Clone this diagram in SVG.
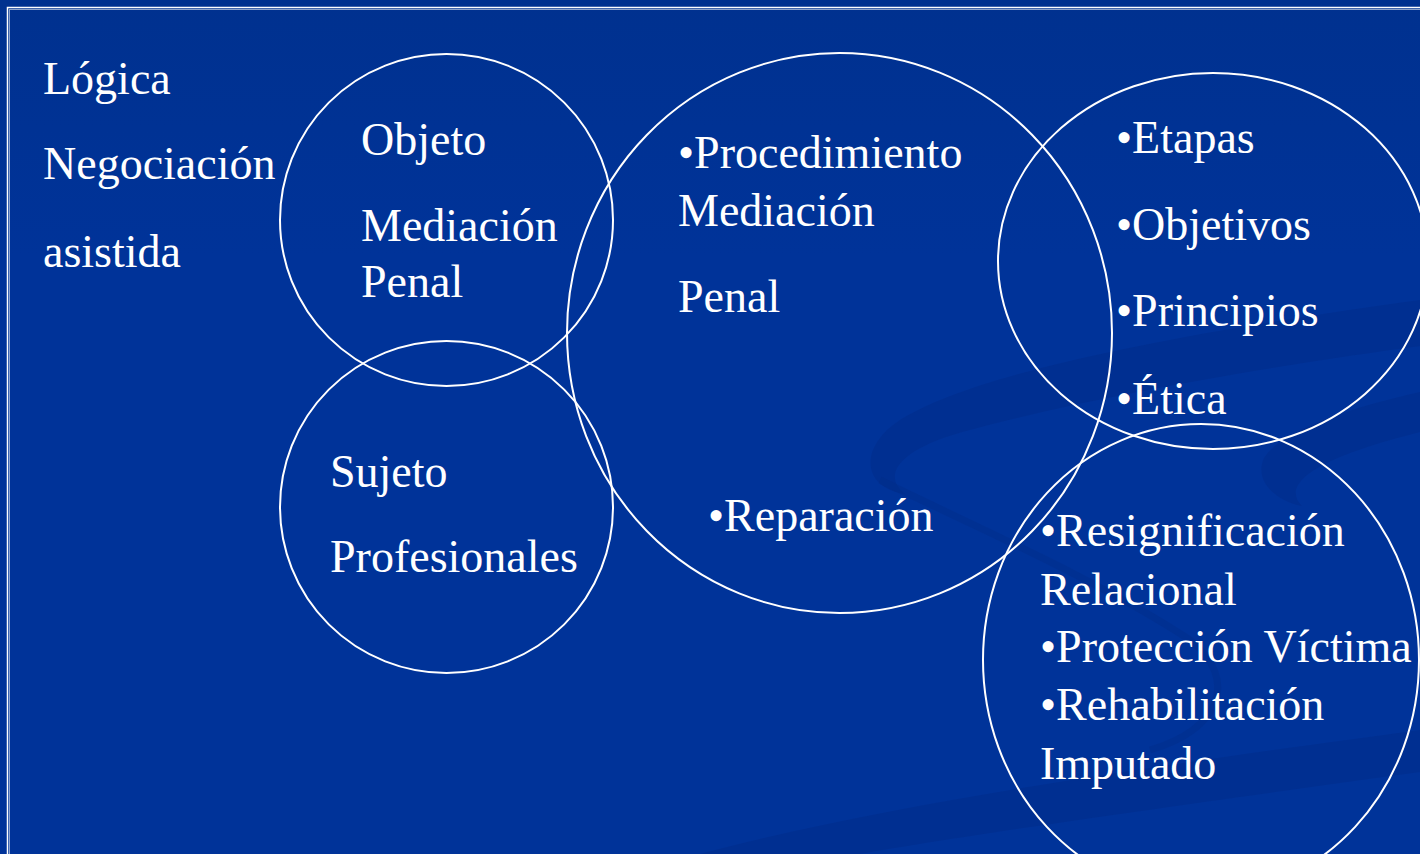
<svg xmlns="http://www.w3.org/2000/svg" width="1420" height="854" viewBox="0 0 1420 854">
  <defs>
    <linearGradient id="bg" x1="0" y1="0" x2="0" y2="1">
      <stop offset="0" stop-color="#00318f"/>
      <stop offset="0.3" stop-color="#003399"/>
      <stop offset="1" stop-color="#003399"/>
    </linearGradient>
    <style>
      .ring { fill: none; stroke: #ffffff; stroke-width: 2; }
      .t { font-family: "Liberation Serif", "Times New Roman", serif; font-size: 46px; fill: #ffffff; }
      .sw { fill: #002c86; opacity: 0.42; }
      .swl { fill: none; stroke: #002c86; opacity: 0.38; }
    </style>
  </defs>

  <!-- background -->
  <rect x="0" y="0" width="1420" height="854" fill="url(#bg)"/>
  <g id="background-swooshes">
    <path class="sw" d="M1420 300 C1200 330 980 370 900 420 C858 447 862 488 905 494 C884 478 892 452 962 432 C1100 394 1300 362 1420 346 Z"/>
    <path class="swl" stroke-width="7" d="M880 480 C960 520 1100 580 1190 640 C1240 680 1220 730 1150 750"/>
    <path class="sw" d="M1420 392 C1350 408 1282 430 1264 458 C1254 480 1274 500 1302 506 C1284 488 1300 462 1420 432 Z"/>
    <path class="sw" d="M700 854 C900 800 1200 760 1420 730 L1420 772 C1200 802 960 836 860 854 Z"/>
  </g>

  <!-- frame -->
  <rect x="7.5" y="7.5" width="1440" height="880" fill="none" stroke="#ffffff" stroke-width="1.5"/>
  <rect x="9.5" y="9.5" width="1440" height="880" fill="none" stroke="#ffffff" stroke-opacity="0.55" stroke-width="1"/>

  <g id="connectors"/>

  <g id="logica">
    <text class="t" x="43" y="94">Lógica</text>
    <text class="t" x="43" y="179">Negociación</text>
    <text class="t" x="43" y="267">asistida</text>
  </g>

  <g id="objeto">
    <ellipse class="ring" cx="446.5" cy="220" rx="166.5" ry="166"/>
    <text class="t" x="361" y="155">Objeto</text>
    <text class="t" x="361" y="241">Mediación</text>
    <text class="t" x="361" y="297">Penal</text>
  </g>

  <g id="sujeto">
    <ellipse class="ring" cx="446.5" cy="507" rx="166.5" ry="166"/>
    <text class="t" x="330" y="487">Sujeto</text>
    <text class="t" x="330" y="572">Profesionales</text>
  </g>

  <g id="procedimiento">
    <ellipse class="ring" cx="839.5" cy="333" rx="272.5" ry="280"/>
    <text class="t" x="678" y="168">•Procedimiento</text>
    <text class="t" x="678" y="226">Mediación</text>
    <text class="t" x="678" y="312">Penal</text>
    <text class="t" x="708" y="531">•Reparación</text>
  </g>

  <g id="etapas">
    <ellipse class="ring" cx="1213" cy="261" rx="215" ry="188"/>
    <text class="t" x="1116" y="153">•Etapas</text>
    <text class="t" x="1116" y="240">•Objetivos</text>
    <text class="t" x="1116" y="326">•Principios</text>
    <text class="t" x="1116" y="414">•Ética</text>
  </g>

  <g id="resignificacion">
    <ellipse class="ring" cx="1201" cy="660" rx="218" ry="236"/>
    <text class="t" x="1040" y="546">•Resignificación</text>
    <text class="t" x="1040" y="605">Relacional</text>
    <text class="t" x="1040" y="662">•Protección Víctima</text>
    <text class="t" x="1040" y="720">•Rehabilitación</text>
    <text class="t" x="1040" y="779">Imputado</text>
  </g>
</svg>
